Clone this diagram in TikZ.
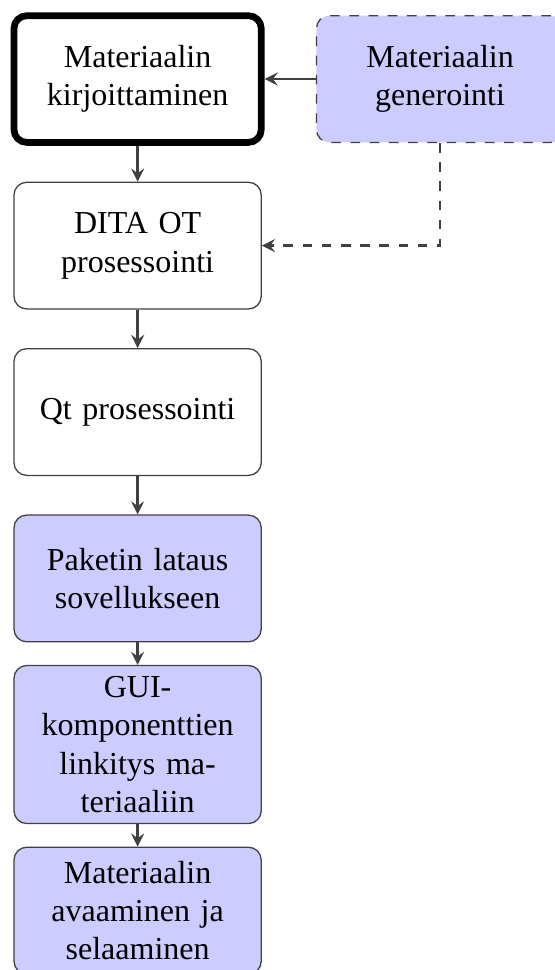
\documentclass[tikz,border=0pt]{standalone}
\usepackage{fontspec}
\setmainfont{Liberation Serif}
\usetikzlibrary{positioning}

\begin{document}
\begin{tikzpicture}[>=stealth,node distance=12pt,every node/.style={shape=rectangle,
		draw=black!75,rounded corners,text width=70.6pt,minimum height=39.6pt,align=center},
		phase/.style={fill=blue!20},
		arrow/.style={->,thick,black!75}]
		\useasboundingbox (0,0) rectangle (173.4pt,-303.1pt);
		% create the nodes
		\node (writing) [draw=black,line width=2.1pt] at (43pt,-24.7pt) {Materiaalin\\
			kirjoittaminen};
		\node (generating) [phase,dashed,right=16pt of writing] {Materiaalin\\generointi};
		\node (ditaot) [below=11.2pt of writing] {DITA OT\\prosessointi};
		\node (qtproc) [below=of ditaot] {Qt prosessointi};
		\node (loading) [phase,below=of qtproc] {Paketin lataus\\sovellukseen};
		\node (linking) [phase,below=7pt of loading] {GUI-\\komponenttien\\
			linkitys ma-\\teriaaliin};
		\node (browsing) [phase,below=7pt of linking] {Materiaalin\\avaaminen ja\\
			selaaminen};

		% connect the nodes
		\draw[arrow] (generating) -- (writing);
		\draw[arrow,dashed] (generating) |- (ditaot);
		\draw[arrow] (writing) -- (ditaot);
		\draw[arrow] (ditaot) -- (qtproc);
		\draw[arrow] (qtproc) -- (loading);
		\draw[arrow] (loading) -- (linking);
		\draw[arrow] (linking) -- (browsing);

	\end{tikzpicture}
\end{document}
